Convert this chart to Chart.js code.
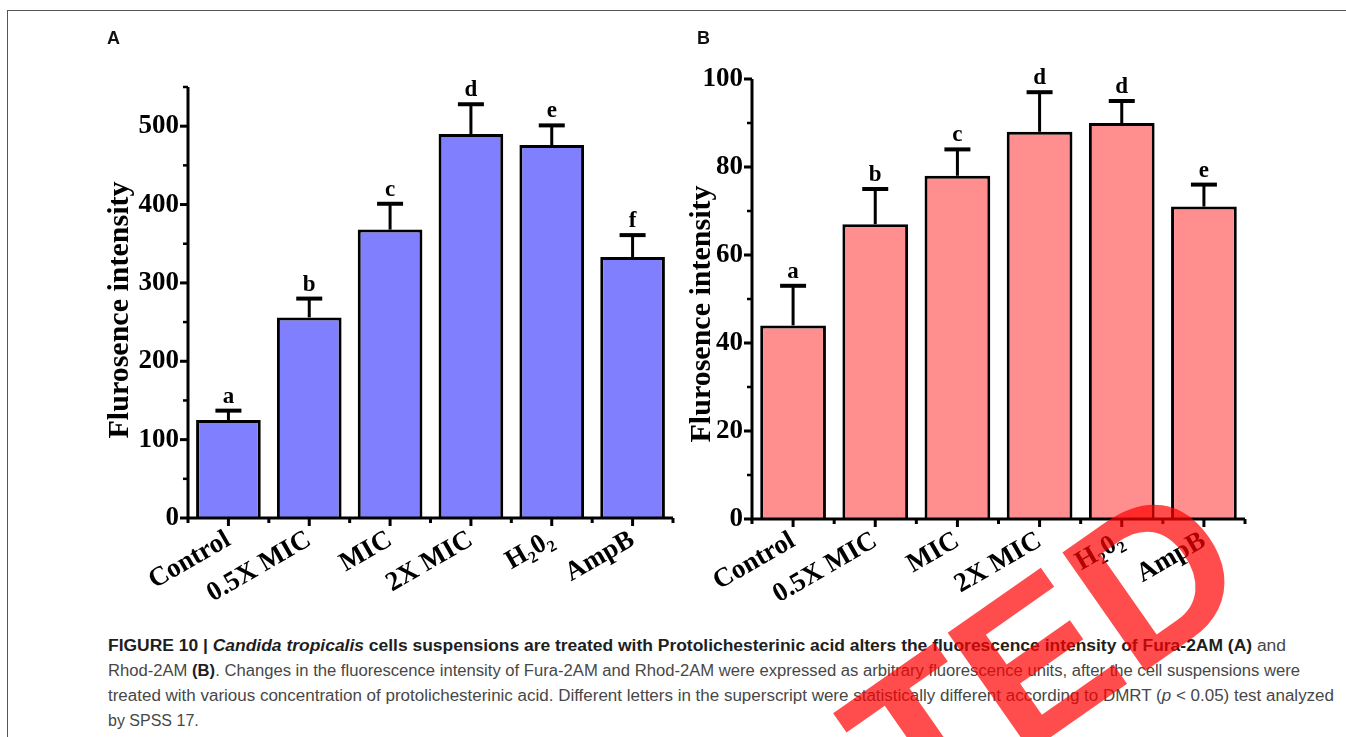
<!DOCTYPE html>
<html>
<head>
<meta charset="utf-8">
<script src="https://cdn.jsdelivr.net/npm/chart.js@4.4.1/dist/chart.umd.min.js"></script>
<style>
  html, body { margin: 0; padding: 0; background: #fff; }
  body { width: 1346px; height: 737px; position: relative; overflow: hidden; }
  #frame { position: absolute; left: 7px; top: 10px; width: 1400px; height: 800px;
           border-top: 1px solid #555; border-left: 1px solid #555; }
  .wrap { position: absolute; top: 0; height: 600px; }
  #wrapA { left: 0; width: 680px; }
  #wrapB { left: 660px; width: 686px; }
  .plabel { position: absolute; font: bold 18px "Liberation Sans", Arial, sans-serif; color: #111; line-height: 18px; }
  #caption { position: absolute; left: 108px; top: 633px; font-family: "Liberation Sans Narrow", "Liberation Sans", Arial, sans-serif;
             font-size: 16px; line-height: 25px; color: #474747; white-space: nowrap; }
  #caption b { color: #1e1e1e; }
  #caption .ln { display: inline-block; transform-origin: 0 50%; }
  #stamp { position: absolute; left: 0; top: 0; pointer-events: none; }
</style>
</head>
<body>
<div id="frame"></div>
<div class="wrap" id="wrapA"><canvas id="chartA" width="680" height="600"></canvas></div>
<div class="wrap" id="wrapB"><canvas id="chartB" width="686" height="600"></canvas></div>
<div class="plabel" style="left:107px;top:29px;">A</div>
<div class="plabel" style="left:697px;top:29px;">B</div>
<div id="caption">
  <span class="ln" data-w="1178"><b>FIGURE 10 | <i>Candida tropicalis</i> cells suspensions are treated with Protolichesterinic acid alters the fluorescence intensity of Fura-2AM (A)</b> and</span><br>
  <span class="ln" data-w="1192">Rhod-2AM <b>(B)</b>. Changes in the fluorescence intensity of Fura-2AM and Rhod-2AM were expressed as arbitrary fluorescence units, after the cell suspensions were</span><br>
  <span class="ln" data-w="1226">treated with various concentration of protolichesterinic acid. Different letters in the superscript were statistically different according to DMRT (<i>p</i> &lt; 0.05) test analyzed</span><br>
  <span class="ln">by SPSS 17.</span>
</div>
<canvas id="stamp" width="1346" height="737"></canvas>
<script>
// Treatment groups shared by both panels
const categories = ['Control', '0.5X MIC', 'MIC', '2X MIC', 'H\u20820\u2082', 'AmpB'];

// Panel A: Fura-2AM fluorescence
const furaMeans   = [125, 256, 368, 490, 476, 333];
const furaErrors  = [12, 24, 33, 38, 25, 28];
const furaLetters = ['a', 'b', 'c', 'd', 'e', 'f'];
const furaTicks   = [0, 100, 200, 300, 400, 500];
const furaMinor   = [50, 150, 250, 350, 450, 550];

// Panel B: Rhod-2AM fluorescence
const rhodMeans   = [44, 67, 78, 88, 90, 71];
const rhodErrors  = [9, 8, 6, 9, 5, 5];
const rhodLetters = ['a', 'b', 'c', 'd', 'd', 'e'];
const rhodTicks   = [0, 20, 40, 60, 80, 100];
const rhodMinor   = [10, 30, 50, 70, 90];

const SERIF = '"Liberation Serif", "Times New Roman", serif';
const AXIS_TITLE = 'Flurosence intensity';

// Draws Prism-style axes, tick marks, upper error bars, group letters and the axis title
const prismPlugin = {
  id: 'prism',
  afterDatasetsDraw(chart, args, opts) {
    const { ctx, chartArea: ca, scales: { x, y } } = chart;
    const meta = chart.getDatasetMeta(0);
    const y0 = y.getPixelForValue(0);
    const yTop = y.getPixelForValue(y.max);
    ctx.save();
    ctx.strokeStyle = '#000';
    ctx.fillStyle = '#000';
    ctx.lineCap = 'butt';

    // error bars + letters
    opts.means.forEach((m, i) => {
      const bx = meta.data[i].x;
      const pTop = y.getPixelForValue(m);
      const pCap = y.getPixelForValue(m + opts.errors[i]);
      ctx.lineWidth = 3;
      ctx.beginPath(); ctx.moveTo(bx, pTop); ctx.lineTo(bx, pCap); ctx.stroke();
      ctx.lineWidth = 4;
      ctx.beginPath(); ctx.moveTo(bx - 13, pCap); ctx.lineTo(bx + 13, pCap); ctx.stroke();
      ctx.font = 'bold 23px ' + SERIF;
      ctx.textAlign = 'center';
      ctx.textBaseline = 'alphabetic';
      ctx.fillText(opts.letters[i], bx, pCap - 8);
    });

    // axis lines
    ctx.lineWidth = 3;
    ctx.beginPath();
    ctx.moveTo(ca.left, yTop);
    ctx.lineTo(ca.left, y0);
    ctx.lineTo(ca.right, y0);
    ctx.stroke();

    // y ticks
    opts.major.forEach(v => {
      const p = y.getPixelForValue(v);
      ctx.beginPath(); ctx.moveTo(ca.left - 8, p); ctx.lineTo(ca.left, p); ctx.stroke();
    });
    ctx.lineWidth = 2.5;
    opts.minor.forEach(v => {
      const p = y.getPixelForValue(v);
      ctx.beginPath(); ctx.moveTo(ca.left - 5, p); ctx.lineTo(ca.left, p); ctx.stroke();
    });

    // x ticks: group centres and group boundaries
    ctx.lineWidth = 3;
    const n = categories.length;
    const step = (ca.right - ca.left) / n;
    for (let i = 0; i < n; i++) {
      const cx = x.getPixelForValue(i);
      ctx.beginPath(); ctx.moveTo(cx, y0); ctx.lineTo(cx, y0 + 8); ctx.stroke();
    }
    for (let i = 0; i <= n; i++) {
      const bx = ca.left + i * step;
      ctx.beginPath(); ctx.moveTo(bx, y0); ctx.lineTo(bx, y0 + 5); ctx.stroke();
    }

    // axis title
    ctx.translate(opts.titleX, opts.titleY);
    ctx.rotate(-Math.PI / 2);
    ctx.font = 'bold 30px ' + SERIF;
    ctx.textAlign = 'center';
    ctx.textBaseline = 'middle';
    ctx.fillText(AXIS_TITLE, 0, 0);
    ctx.restore();
  }
};

function buildPanel(id, cfg) {
  return new Chart(document.getElementById(id), {
    type: 'bar',
    data: {
      labels: categories,
      datasets: [{
        data: cfg.means,
        backgroundColor: cfg.fill,
        borderColor: '#000',
        borderWidth: 3,
        borderSkipped: 'start',
        barPercentage: 0.8,
        categoryPercentage: 1
      }]
    },
    options: {
      responsive: false,
      animation: false,
      devicePixelRatio: 1,
      layout: { padding: { left: 0, top: cfg.padTop, right: cfg.padRight, bottom: 0 } },
      plugins: {
        legend: { display: false },
        tooltip: { enabled: false },
        prism: {
          means: cfg.means, errors: cfg.errors, letters: cfg.letters,
          major: cfg.ticks, minor: cfg.minor,
          titleX: cfg.titleX, titleY: cfg.titleY
        }
      },
      scales: {
        x: {
          grid: { display: false, drawTicks: false },
          border: { display: false },
          ticks: {
            autoSkip: false, minRotation: 30, maxRotation: 30, padding: 6,
            color: '#000', font: { family: SERIF, weight: 'bold', size: 27 }
          },
          afterFit(s) { s.height = cfg.xHeight; }
        },
        y: {
          min: 0, max: cfg.max,
          grid: { display: false, drawTicks: false },
          border: { display: false },
          ticks: { padding: 9, color: '#000', font: { family: SERIF, weight: 'bold', size: 27 } },
          afterBuildTicks(s) { s.ticks = cfg.ticks.map(v => ({ value: v })); },
          afterFit(s) { s.width = cfg.yWidth; }
        }
      }
    },
    plugins: [prismPlugin]
  });
}

buildPanel('chartA', {
  means: furaMeans, errors: furaErrors, letters: furaLetters,
  ticks: furaTicks, minor: furaMinor, max: 550, fill: '#8080FF',
  padTop: 87, padRight: 7, yWidth: 188, xHeight: 82, titleX: 120, titleY: 310
});

buildPanel('chartB', {
  means: rhodMeans, errors: rhodErrors, letters: rhodLetters,
  ticks: rhodTicks, minor: rhodMinor, max: 100, fill: '#FF8F8F',
  padTop: 79, padRight: 101, yWidth: 92, xHeight: 81, titleX: 42, titleY: 314
});

// Fit each caption line to its column width
document.querySelectorAll('#caption .ln').forEach(el => {
  const target = parseFloat(el.dataset.w || '0');
  if (target) {
    const w = el.getBoundingClientRect().width;
    el.style.transform = 'scaleX(' + (target / w) + ')';
  }
});

// Retraction stamp overlaid on the whole figure
(function () {
  const c = document.getElementById('stamp').getContext('2d');
  c.save();
  c.translate(1258, 592);
  c.rotate(-35 * Math.PI / 180);
  c.font = 'bold 210px "Liberation Sans", Arial, sans-serif';
  c.textAlign = 'right';
  c.textBaseline = 'alphabetic';
  c.fillStyle = 'rgba(255, 0, 0, 0.7)';
  c.fillText('RETRACTED', 0, 0);
  c.restore();
})();
</script>
</body>
</html>
